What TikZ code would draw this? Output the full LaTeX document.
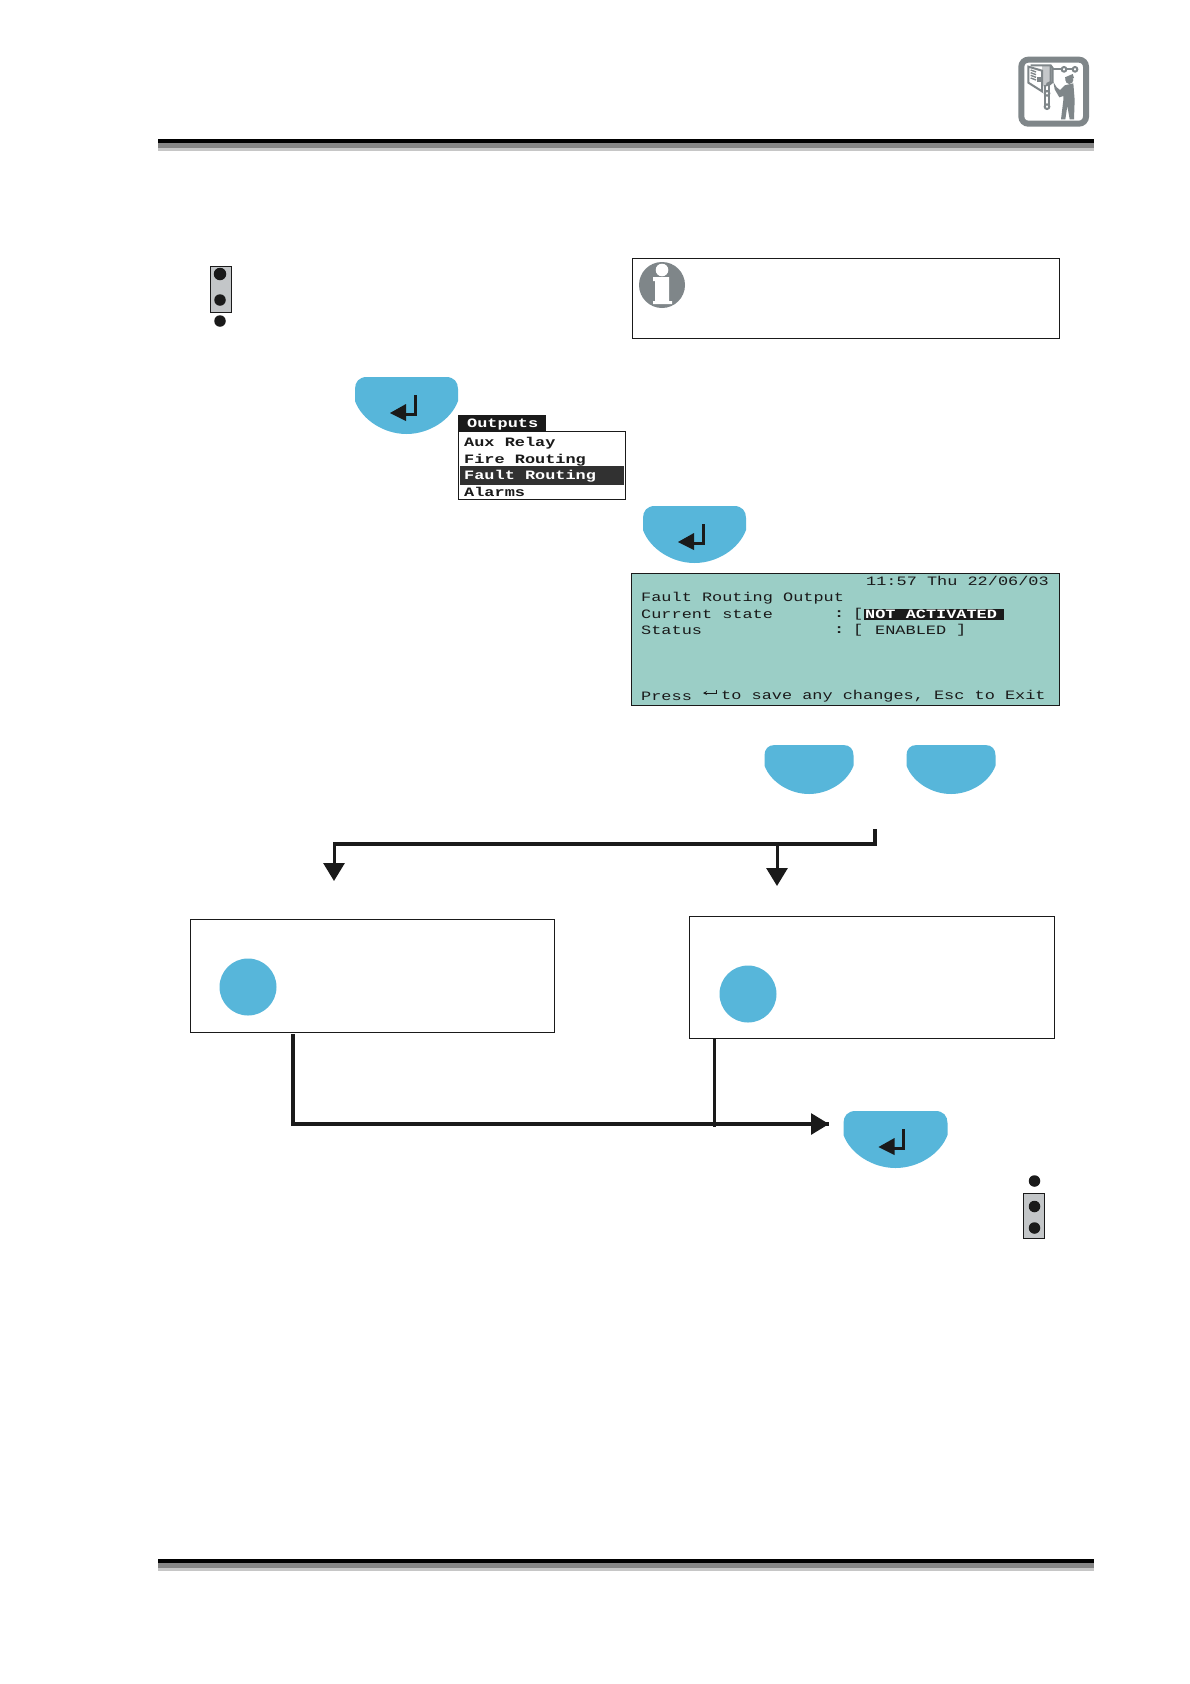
\documentclass[tikz,border=0pt]{standalone}
\usepackage{fontspec}
\newfontfamily\lcd[FakeStretch=1.32]{Liberation Mono}
\usetikzlibrary{arrows.meta}
\definecolor{keyblue}{HTML}{57B6DA}
\definecolor{lcdgreen}{HTML}{9BCEC6}
\definecolor{inkblack}{HTML}{1A1A1A}
\definecolor{icongrey}{HTML}{7F8689}
\definecolor{jumpgrey}{HTML}{C3C6C8}
\tikzset{
  framebox/.style={draw=inkblack,line width=.8pt,fill=white,inner sep=0pt,rectangle},
  lcdtext/.style={font=\lcd\fontsize{12.8}{13}\selectfont,text=inkblack,anchor=west,inner sep=0pt},
  lcdbold/.style={font=\lcd\bfseries\fontsize{12.8}{13}\selectfont,text=inkblack,anchor=west,inner sep=0pt},
  lcdwhite/.style={font=\lcd\bfseries\fontsize{12.8}{13}\selectfont,text=white,anchor=west,inner sep=0pt},
  flow/.style={draw=inkblack,line width=3.4pt},
  flowthin/.style={draw=inkblack,line width=2.4pt},
  flowtip/.style={draw=inkblack,line width=3pt,-{Triangle[length=18pt,width=21pt]}},
  jumpdot/.style={circle,fill=inkblack,minimum size=11.5pt,inner sep=0pt},
  jumpbox/.style={draw=inkblack,line width=.9pt,fill=jumpgrey,inner sep=0pt,rectangle},
  bluedot/.style={circle,fill=keyblue,minimum size=57pt,inner sep=0pt},
  iconline/.style={draw=icongrey,line width=2pt},
  iconfill/.style={fill=icongrey},
}
\newcommand{\keyshape}[5]{% name, x, y, w, h
  \node[minimum width=#4pt,minimum height=#5pt,inner sep=0pt,anchor=north west] (#1) at (#2,#3) {};
  \begin{scope}[shift={(#2,#3)},xscale=#4/103,yscale=#5/57]
    \fill[keyblue] (12,0) -- (91,0) .. controls (99,0) and (103,5) .. (103,12) -- (103,24)
      .. controls (96,43) and (74,57) .. (51.5,57) .. controls (29,57) and (7,43) .. (0,24)
      -- (0,12) .. controls (0,5) and (4,0) .. (12,0) -- cycle;
  \end{scope}}
\newcommand{\enterglyph}[2]{%
  \begin{scope}[shift={(#1,#2)}]
    \draw[inkblack,line width=3pt] (60,18) -- (60,37) -- (44,37);
    \fill[inkblack] (35,36) -- (51,27) -- (51,44) -- cycle;
  \end{scope}}
\newcommand{\barrule}[1]{%
  \fill[black] (158,#1) rectangle (1094,#1+3.5);
  \fill[gray!95] (158,#1+3.5) rectangle (1094,#1+9);
  \fill[gray!45] (158,#1+9) rectangle (1094,#1+12);}
\begin{document}
\begin{tikzpicture}[x=1pt,y=-1pt]
\useasboundingbox (0,0) rectangle (1190,1684);
\fill[white] (0,0) rectangle (1190,1684);
% rules
\barrule{139}
\barrule{1559}
% engineer icon
\begin{scope}[shift={(1010,50)},scale=1/3]
  \draw[icongrey,line width=6pt,rounded corners=7pt,fill=white] (34,29) rectangle (228,221);
  % cabinet
  \fill[icongrey!45] (96,46) -- (122,46) -- (128,54) -- (128,96) -- (108,106) -- (96,110) -- cycle;
  \draw[iconline] (62,46) -- (122,46) -- (128,54) -- (128,96) -- (118,104) -- (108,106);
  \draw[iconline] (122,46) -- (122,96) -- (110,102);
  \draw[iconline,fill=white] (55,50) -- (96,62) -- (96,124) -- (55,98) -- cycle;
  \foreach \yy in {66,74,82,90}{\draw[icongrey,line width=1.4pt] (62,\yy-6) -- (78,\yy);}
  \fill[icongrey] (80,80) rectangle (92,96);
  % pipes
  \draw[iconline] (128,58) -- (200,58);
  \draw[iconline,fill=white] (162,58) circle (7);
  \draw[iconline,fill=white] (195,58) circle (7);
  \draw[iconline] (106,106) -- (106,170);
  \draw[iconline] (116,106) -- (116,170);
  \draw[iconline,fill=white] (111,130) circle (7);
  \draw[iconline,fill=white] (111,170) circle (7);
  % person
  \fill[icongrey] (178,90) circle (12);
  \fill[icongrey] (165,82) -- (188,72) -- (192,84) -- (168,92) -- cycle;
  \fill[icongrey] (164,106) -- (190,100) -- (194,150) -- (192,208) -- (179,208) -- (172,168) -- (166,208) -- (153,208) -- (160,150) -- (160,138) -- (148,142) -- (134,118) -- (130,96) -- (140,112) -- (150,120) -- cycle;
\end{scope}
% top jumper
\node[jumpbox,minimum width=21pt,minimum height=46pt] (jumpA) at (221,289) {};
\node[jumpdot,minimum size=12.5pt] (jumpA1) at (220,274) {};
\node[jumpdot] (jumpA2) at (220,300) {};
\node[jumpdot] (jumpA3) at (220,321) {};
% info box
\node[framebox,minimum width=427pt,minimum height=80pt] (info) at (845.5,298) {};
\fill[icongrey] (662,285) circle (23);
\fill[white] (662,270) circle (6.3);
\fill[white] (653,277) -- (669,277) -- (669,301) -- (672,301) -- (672,304) -- (653,304) -- (653,301) -- (655,301) -- (655,281) -- (653,281) -- cycle;
% key 1
\keyshape{keyA}{355}{377}{103}{57}
\enterglyph{355}{377}
% menu
\node[framebox,minimum width=167pt,minimum height=68.5pt] (menu) at (542,465.5) {};
\node[fill=inkblack,minimum width=88pt,minimum height=16.5pt,inner sep=0pt] (menuhead) at (502,423) {};
\node[fill=inkblack!90!white,minimum width=164pt,minimum height=19pt,inner sep=0pt] (menusel) at (542,475.5) {};
\node[lcdwhite] (tOutputs) at (467,424.5) {Outputs};
\node[lcdbold] (tAux) at (464,443) {Aux Relay};
\node[lcdbold] (tFire) at (464,460) {Fire Routing};
\node[lcdwhite] (tFault) at (464,476.5) {Fault Routing};
\node[lcdbold] (tAlarms) at (464,492) {Alarms};
% key 2
\keyshape{keyB}{643}{506}{103}{57}
\enterglyph{643}{506}
% LCD
\node[draw=inkblack,line width=.9pt,fill=lcdgreen,minimum width=428pt,minimum height=132pt,inner sep=0pt] (lcdbox) at (845,639) {};
\node[lcdtext] (tTime) at (866,581) {11:57 Thu 22/06/03};
\node[lcdtext] (tFR) at (641,598) {Fault Routing Output};
\node[lcdtext] (tCS) at (641,614) {Current state};
\node[lcdbold] (tC1) at (834,614) {:};
\node[lcdtext] (tB1) at (853,614) {[};
\node[fill=inkblack,minimum width=140pt,minimum height=11pt,inner sep=0pt] (notbg) at (934,614) {};
\node[lcdwhite] (tNA) at (865,614) {NOT ACTIVATED};
\node[lcdtext] (tS) at (641,630.5) {Status};
\node[lcdbold] (tC2) at (834,630.5) {:};
\node[lcdtext] (tB2) at (853,630.5) {[};
\node[lcdtext] (tEN) at (875,630.5) {ENABLED};
\node[lcdtext] (tB3) at (956,630.5) {]};
\node[lcdtext] (tP) at (641,696) {Press};
\node[lcdtext] (tSave) at (721,696) {to save any changes, Esc to Exit};
\draw[inkblack,line width=.9pt,-{Stealth[length=4pt,width=4pt]}] (716,690) -- (716,693) -- (703,693);
% keys 3,4
\keyshape{keyC}{764.5}{745}{89}{49}
\keyshape{keyD}{906.5}{745}{89}{49}
% boxes
\node[framebox,minimum width=364pt,minimum height=113pt] (boxL) at (372,975.5) {};
\node[framebox,minimum width=365pt,minimum height=122pt] (boxR) at (871.5,977) {};
\node[bluedot] (dotL) at (248,987) {};
\node[bluedot] (dotR) at (748,994) {};
% key 5
\keyshape{keyE}{843.5}{1111}{104}{57}
\enterglyph{843.5}{1111}
% bottom jumper
\node[jumpbox,minimum width=21pt,minimum height=45pt] (jumpB) at (1034,1215.5) {};
\node[jumpdot] (jumpB1) at (1034.5,1181) {};
\node[jumpdot] (jumpB2) at (1034.5,1206.5) {};
\node[jumpdot] (jumpB3) at (1034.5,1228) {};
% connectors
\coordinate (src) at (875,829);
\coordinate (bend) at (875,844);
\coordinate (tipL) at (334,881);
\coordinate (tipR) at (777,886);
\coordinate (fromL) at (293,1034);
\coordinate (fromR) at (714.5,1038);
\coordinate (tipE) at (829,1124);
\draw[flow,line join=miter] (src) -- (bend) -- (tipL |- bend);
\draw[flowtip] ([xshift=0pt]tipL |- bend) ++(0,-1.7) -- (tipL);
\draw[flowtip] (tipR |- bend) -- (tipR);
\draw[flow] (fromL) -- (fromL |- tipE) -- (tipE);
\draw[flowtip] (800,1124) -- (tipE);
\draw[flowthin] (fromR) -- (fromR |- 0,1127);
\end{tikzpicture}
\end{document}
